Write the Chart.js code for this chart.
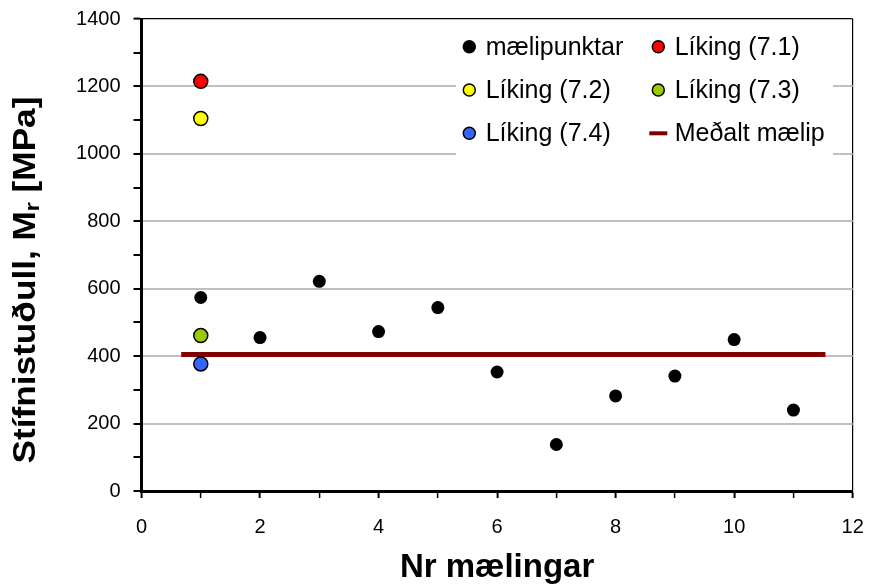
<!DOCTYPE html>
<html><head><meta charset="utf-8">
<script src="https://cdn.jsdelivr.net/npm/chart.js@4"></script>
<style>html,body{margin:0;padding:0;background:#fff}#wrap{width:872px;height:586px}</style>
</head><body><div id="wrap"><canvas id="c" width="872" height="586"></canvas></div>
<script>
// ---- data ----
const measLabel = 'mælipunktar';
const measX = [1, 2, 3, 4, 5, 6, 7, 8, 9, 10, 11];
const measY = [574, 455, 622, 473, 544, 353, 138, 282, 341, 449, 240];
const eqLabels = ['Líking (7.1)', 'Líking (7.2)', 'Líking (7.3)', 'Líking (7.4)'];
const eqX = [1, 1, 1, 1];
const eqY = [1215, 1105, 461, 377];
const meanLabel = 'Meðalt mælip';
const meanX = [0.67, 11.54];
const meanY = [405, 405];
const xTitle = 'Nr mælingar';
const yTitleParts = ['Stífnistuðull, M', 'r', ' [MPa]'];

// ---- styles ----
const eqColors = ['#ff0000', '#ffff00', '#99cc00', '#3366ff'];
const FONT = '"Liberation Sans", Arial, sans-serif';

const datasets = [{
  label: measLabel,
  data: measX.map((x, i) => ({x, y: measY[i]})),
  backgroundColor: '#000', borderColor: '#000', borderWidth: 0, pointRadius: 6.5, pointHoverRadius: 6.5
}];
eqLabels.forEach((lab, i) => {
  datasets.push({
    label: lab,
    data: [{x: eqX[i], y: eqY[i]}],
    backgroundColor: eqColors[i], borderColor: '#000', borderWidth: 1.5, pointRadius: 7, pointHoverRadius: 7
  });
});
datasets.push({
  label: meanLabel, type: 'line', showLine: true,
  data: meanX.map((x, i) => ({x, y: meanY[i]})),
  borderColor: '#800000', backgroundColor: '#800000', borderWidth: 5, pointRadius: 0, borderCapStyle: 'butt'
});

const legendPlugin = {
  id: 'boxLegend',
  afterDatasetsDraw(chart) {
    const ctx = chart.ctx;
    const colX = [469.3, 658.3];
    const rowY = [46.7, 90, 133.3];
    ctx.save();
    ctx.fillStyle = '#fff';
    ctx.fillRect(456, 21, 377, 146);
    ctx.beginPath(); ctx.rect(456, 21, 377, 146); ctx.clip();
    chart.data.datasets.forEach((ds, i) => {
      const cx = colX[i % 2], cy = rowY[Math.floor(i / 2)];
      if (ds.type === 'line') {
        ctx.strokeStyle = ds.borderColor; ctx.lineWidth = 4;
        ctx.beginPath(); ctx.moveTo(cx - 9, cy); ctx.lineTo(cx + 9, cy); ctx.stroke();
      } else {
        ctx.beginPath(); ctx.arc(cx, cy, 6, 0, Math.PI * 2);
        ctx.fillStyle = ds.backgroundColor; ctx.fill();
        ctx.strokeStyle = '#000'; ctx.lineWidth = 1.5; ctx.stroke();
      }
      ctx.fillStyle = '#000';
      ctx.font = '25px ' + FONT;
      ctx.textBaseline = 'middle';
      ctx.textAlign = 'left';
      ctx.fillText(ds.label, cx + 16.4, cy + 1);
    });
    ctx.restore();
  }
};

const yTitlePlugin = {
  id: 'yTitle',
  afterDraw(chart) {
    const ctx = chart.ctx;
    const big = 'bold 32px ' + FONT, small = 'bold 21px ' + FONT;
    const fonts = [big, small, big];
    const dys = [0, 4, 0];
    const stretch = 1.1;
    let total = 0;
    const widths = yTitleParts.map((t, i) => { ctx.font = fonts[i]; const w = ctx.measureText(t).width; total += w; return w; });
    ctx.save();
    ctx.translate(35, 280);
    ctx.rotate(-Math.PI / 2);
    ctx.scale(stretch, 1);
    ctx.fillStyle = '#000';
    ctx.textBaseline = 'alphabetic';
    ctx.textAlign = 'left';
    let x = -total / 2;
    yTitleParts.forEach((t, i) => { ctx.font = fonts[i]; ctx.fillText(t, x, dys[i]); x += widths[i]; });
    ctx.restore();
  }
};

new Chart(document.getElementById('c'), {
  type: 'scatter',
  data: {datasets},
  plugins: [legendPlugin, yTitlePlugin],
  options: {
    responsive: false, devicePixelRatio: 1, animation: false,
    layout: {padding: {left: 0, right: 19.3, top: 19, bottom: 0}},
    plugins: {legend: {display: false}, tooltip: {enabled: false}},
    scales: {
      x: {
        type: 'linear', min: 0, max: 12,
        afterFit: s => { s.height = 95; s.paddingLeft = 0; s.paddingRight = 0; },
        ticks: {stepSize: 1, autoSkip: false, maxRotation: 0, padding: 17, color: '#000',
          font: {family: FONT, size: 20},
          callback: v => (v % 2 === 0 ? String(v) : '')},
        grid: {
          drawOnChartArea: true, tickLength: 7,
          color: c => (c.tick && c.tick.value === 12 ? '#000' : 'rgba(0,0,0,0)'),
          lineWidth: 1.2,
          tickColor: '#000',
          tickWidth: c => (c.tick && c.tick.value % 2 === 0 ? 2 : 1.5)
        },
        border: {color: '#000', width: 3},
        title: {display: true, text: xTitle, color: '#000', font: {family: FONT, size: 33, weight: 'bold'}, padding: {top: 0, bottom: -2}}
      },
      y: {
        type: 'linear', min: 0, max: 1400,
        afterFit: s => { s.width = 141.5; s.paddingTop = 0; s.paddingBottom = 0; },
        ticks: {stepSize: 100, autoSkip: false, padding: 13, color: '#000',
          font: {family: FONT, size: 20},
          callback: v => (v % 200 === 0 ? String(v) : '')},
        grid: {
          drawOnChartArea: true, tickLength: 8,
          color: c => {
            const v = c.tick ? c.tick.value : -1;
            if (v === 1400) return '#000';
            if (v > 0 && v % 200 === 0) return '#c0c0c0';
            return 'rgba(0,0,0,0)';
          },
          lineWidth: c => (c.tick && c.tick.value === 1400 ? 1.2 : 2),
          tickColor: '#000', tickWidth: 2
        },
        border: {color: '#000', width: 3}
      }
    }
  }
});
</script></body></html>
